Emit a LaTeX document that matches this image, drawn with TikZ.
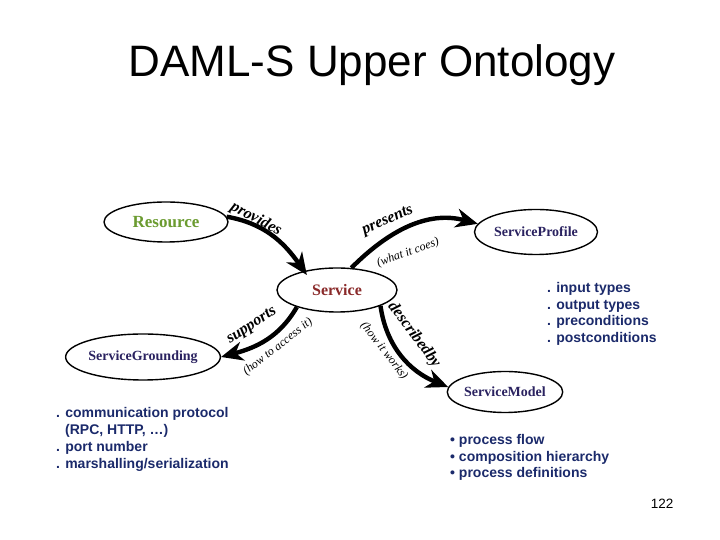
\documentclass[tikz,border=0pt]{standalone}
\usepackage{fontspec}
\setmainfont{Liberation Serif}
\setsansfont{Liberation Sans}
\usetikzlibrary{arrows.meta,shapes.geometric}
\definecolor{navy}{HTML}{1B2A6B}
\definecolor{lblnavy}{HTML}{2A2260}
\definecolor{resgreen}{HTML}{6B9B30}
\definecolor{svcred}{HTML}{8A2A2A}
\pgfdeclarelayer{bg}
\pgfsetlayers{bg,main}
\newcommand\ellshadow[4]{%
  \foreach \k in {7,5,3,1,-1,-3}{%
    \fill[black, opacity=0.075] (#1+5,#2-7) ellipse [x radius={#3/2+\k*1pt}, y radius={#4/2+\k*1pt}];}}
\tikzset{
  ell/.style={ellipse, draw=black, line width=1.4pt, fill=white, inner sep=0pt,
    text=lblnavy, font=\bfseries\fontsize{14}{16}\selectfont},
  arr/.style={line width=4.4pt, -{Stealth[length=22pt,width=19pt,inset=7pt]}},
  arrsh/.style={arr, draw=black!20, fill=black!20, transform canvas={shift={(4pt,-6pt)}}},
  elab/.style={font=\bfseries\itshape\fontsize{16}{18}\selectfont, inner sep=0pt},
  plab/.style={font=\itshape\fontsize{12}{14}\selectfont, inner sep=0pt},
  listtxt/.style={font=\sffamily\bfseries\fontsize{14}{16}\selectfont, text=navy, anchor=base west, inner sep=0pt},
}
\begin{document}
\begin{tikzpicture}[x=1pt,y=1pt]
\useasboundingbox[fill=white] (0,0) rectangle (720,540);

% title and page number
\node[font=\sffamily\fontsize{44}{50}\selectfont, anchor=base] (title) at (372,463) {DAML-S Upper Ontology};
\node[font=\sffamily\fontsize{13.5}{15}\selectfont, anchor=base east] (pg) at (677,31) {122};

% ellipses
\node[ell, minimum width=124pt, minimum height=40pt, text=resgreen, font=\bfseries\fontsize{17}{19}\selectfont] (res) at (166,318) {Resource};
\node[ell, minimum width=120pt, minimum height=44pt, text=svcred, font=\bfseries\fontsize{16}{18}\selectfont] (svc) at (337,250) {Service};
\node[ell, minimum width=123pt, minimum height=45pt] (sp) at (536,308) {ServiceProfile};
\node[ell, minimum width=123pt, minimum height=46pt] (sg) at (143,183) {ServiceGrounding};
\node[ell, minimum width=115pt, minimum height=41pt] (sm) at (505,148) {ServiceModel};

% shadows
\begin{pgfonlayer}{bg}
  \ellshadow{166}{318}{124}{40}
  \ellshadow{337}{250}{120}{44}
  \ellshadow{536}{308}{123}{45}
  \ellshadow{143}{183}{123}{46}
  \ellshadow{505}{148}{115}{41}
  \draw[arrsh, shorten >=-5pt] (res.5) to[out=-10,in=125] (svc.150);
  \draw[arrsh] (svc.57) to[out=45,in=165] (sp.172);
  \draw[arrsh] (svc.203) to[out=240,in=15] (sg.east);
  \draw[arrsh] (svc.-20) to[out=-82,in=158] (sm.175);
\end{pgfonlayer}

% connectors
\draw[arr, shorten >=-5pt] (res.5) to[out=-10,in=125] (svc.150);
\draw[arr] (svc.57) to[out=45,in=165] (sp.172);
\draw[arr] (svc.203) to[out=240,in=15] (sg.east);
\draw[arr] (svc.-20) to[out=-82,in=158] (sm.175);

% connector labels
\node[elab, rotate=-28] (lprov) at (256,321) {provides};
\node[elab, rotate=24] (lpres) at (388,319) {presents};
\node[plab, rotate=20] (lwhat) at (408,287) {(what it coes)};
\node[elab, rotate=33] (lsupp) at (252,214) {supports};
\node[plab, rotate=38] (lhow) at (278,193) {(how to access it)};
\node[elab, rotate=-53] (ldesc) at (414,205) {describedby};
\node[plab, rotate=-52] (lwork) at (384,189) {(how it works)};

% text lists
\node[listtxt] (p1) at (547,247) {. input types};
\node[listtxt] (p2) at (547,230) {. output types};
\node[listtxt] (p3) at (547,214) {. preconditions};
\node[listtxt] (p4) at (547,197) {. postconditions};

\node[listtxt] (g1) at (56,122) {. communication protocol};
\node[listtxt] (g2) at (65,105) {(RPC, HTTP, …)};
\node[listtxt] (g3) at (56,88) {. port number};
\node[listtxt] (g4) at (56,71) {. marshalling/serialization};

\node[listtxt] (m1) at (450,95) {• process flow};
\node[listtxt] (m2) at (450,78) {• composition hierarchy};
\node[listtxt] (m3) at (450,62) {• process definitions};
\end{tikzpicture}
\end{document}
